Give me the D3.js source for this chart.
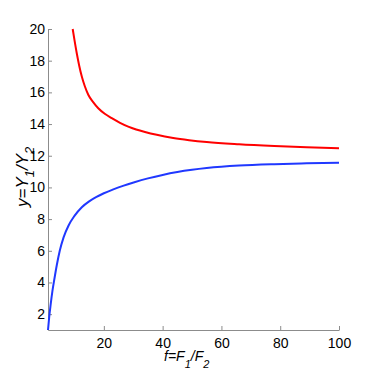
<!DOCTYPE html>
<html>
<head>
<meta charset="utf-8">
<script src="https://cdn.jsdelivr.net/npm/d3@7"></script>
<style>
  body { margin: 0; background: #fff; }
  svg text { font-family: "Liberation Sans", Arial, sans-serif; }
  .axis path, .axis line { stroke: #8c8c8c; }
  .axis text { fill: #000; font-size: 14px; }
</style>
</head>
<body>
<div id="chart"></div>
<script>
// curve readings, f = F1/F2 against y = Y1/Y2
var redF = [9.4, 10.1, 10.8, 11.6, 12.5, 13.5, 14.7, 16.3, 18.1, 20.3, 22.7, 25.5, 28.3, 31, 34, 38, 43.6, 49, 55, 66, 78, 89, 100];
var redY = [20.0, 19.2, 18.45, 17.7, 17.0, 16.4, 15.85, 15.4, 15.0, 14.65, 14.37, 14.08, 13.84, 13.66, 13.5, 13.32, 13.12, 12.98, 12.86, 12.72, 12.61, 12.53, 12.47];

var blueF = [1, 1.4, 1.9, 2.5, 3.2, 4.0, 5.0, 6.3, 8, 10, 12.5, 15, 17.5, 20, 23, 26.5, 30.4, 35, 40, 45, 50, 55, 66, 78, 89, 100];
var blueY = [1.0, 1.8, 2.6, 3.45, 4.25, 5.1, 6.0, 6.85, 7.6, 8.2, 8.75, 9.12, 9.4, 9.63, 9.86, 10.1, 10.33, 10.57, 10.79, 10.97, 11.11, 11.22, 11.38, 11.47, 11.52, 11.56];

var xTicks = [20, 40, 60, 80, 100];
var yTicks = [2, 4, 6, 8, 10, 12, 14, 16, 18, 20];

var width = 374;
var height = 374;
var margin = {left: 48, top: 29, right: 35, bottom: 44};

var svg = d3.select("#chart")
	.append("svg")
	.attr("width", width)
	.attr("height", height);

var x = d3.scaleLinear()
	.domain([1, 100])
	.range([margin.left, width - margin.right]);
var y = d3.scaleLinear()
	.domain([1, 20])
	.range([height - margin.bottom, margin.top]);

// axes, ticks pointing inward
var xAxis = d3.axisBottom(x)
	.tickValues(xTicks)
	.tickSizeInner(-4)
	.tickSizeOuter(0)
	.tickPadding(8);
var yAxis = d3.axisLeft(y)
	.tickValues(yTicks)
	.tickSizeInner(-4)
	.tickSizeOuter(0)
	.tickPadding(3);

svg.append("g")
	.attr("class", "axis")
	.attr("transform", "translate(0," + (height - margin.bottom) + ")")
	.call(xAxis);
svg.append("g")
	.attr("class", "axis")
	.attr("transform", "translate(" + margin.left + ",0)")
	.call(yAxis);

// curves
var line = d3.line()
	.x(function(d) { return x(d[0]); })
	.y(function(d) { return y(d[1]); })
	.curve(d3.curveMonotoneX);

var red = d3.zip(redF, redY);
var blue = d3.zip(blueF, blueY);

svg.append("path")
	.datum(red)
	.attr("d", line)
	.attr("fill", "none")
	.attr("stroke", "#ff0000")
	.attr("stroke-width", 2);
svg.append("path")
	.datum(blue)
	.attr("d", line)
	.attr("fill", "none")
	.attr("stroke", "#2038ff")
	.attr("stroke-width", 2);

// axis labels (italic, with subscripts)
var xl = svg.append("text")
	.attr("x", 164)
	.attr("y", 361)
	.style("font-size", "14px")
	.style("font-style", "italic");
xl.append("tspan").text("f=F");
xl.append("tspan").attr("dy", 7).style("font-size", "11px").text("1");
xl.append("tspan").attr("dy", -7).text("/F");
xl.append("tspan").attr("dy", 7).style("font-size", "11px").text("2");

var yl = svg.append("text")
	.attr("transform", "translate(28,207) rotate(-90)")
	.style("font-size", "17px")
	.style("font-style", "italic");
yl.append("tspan").text("y=Y");
yl.append("tspan").attr("dy", 6).style("font-size", "13px").text("1");
yl.append("tspan").attr("dy", -6).text("/Y");
yl.append("tspan").attr("dy", 6).style("font-size", "13px").text("2");
</script>
</body>
</html>
